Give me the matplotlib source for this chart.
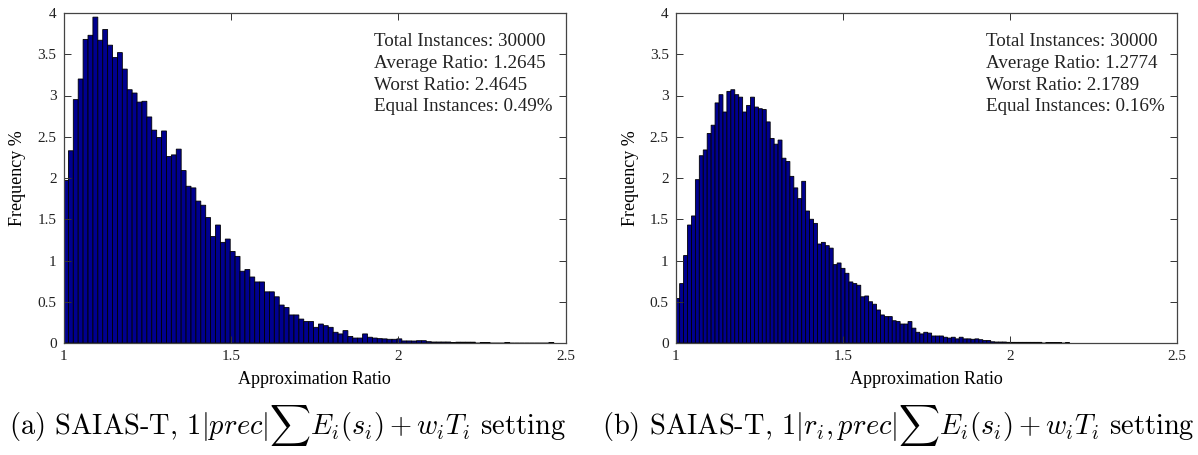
import matplotlib
matplotlib.use('Agg')
import matplotlib.pyplot as plt
import numpy as np

plt.rcParams['font.family'] = ['Liberation Serif', 'DejaVu Serif']
plt.rcParams['mathtext.fontset'] = 'cm'

#%% Data (histogram frequencies in %, 100 bins from 1 to worst ratio)

left_range = (1.0, 2.4645)
left_freq = [1.97, 2.33, 2.95, 3.20, 3.68, 3.73, 3.95, 3.67, 3.80, 3.61,
             3.46, 3.52, 3.32, 3.07, 3.03, 2.92, 2.93, 2.74, 2.58, 2.49,
             2.57, 2.26, 2.28, 2.35, 2.09, 1.90, 1.88, 1.72, 1.67, 1.52,
             1.29, 1.43, 1.22, 1.26, 1.11, 1.05, 0.87, 0.89, 0.80, 0.74,
             0.74, 0.62, 0.62, 0.56, 0.46, 0.43, 0.34, 0.34, 0.29, 0.26,
             0.26, 0.19, 0.23, 0.21, 0.19, 0.13, 0.11, 0.15, 0.08, 0.06,
             0.06, 0.11, 0.07, 0.06, 0.053, 0.05, 0.045, 0.045, 0.05, 0.025,
             0.025, 0.024, 0.028, 0.028, 0.016, 0.012, 0.012, 0.012, 0.012, 0.003,
             0.01, 0.01, 0.01, 0.01, 0, 0.007, 0.007, 0, 0, 0,
             0.007, 0, 0, 0, 0, 0, 0, 0, 0, 0.007]

right_range = (1.0, 2.1789)
right_freq = [0.54, 0.72, 1.06, 1.43, 1.54, 1.98, 2.27, 2.34, 2.54, 2.64,
              2.91, 3.01, 2.80, 3.05, 3.07, 3.01, 2.98, 2.80, 2.88, 2.98,
              2.86, 2.84, 2.83, 2.68, 2.48, 2.41, 2.46, 2.24, 2.20, 2.02,
              1.88, 1.75, 1.96, 1.60, 1.50, 1.45, 1.20, 1.22, 1.18, 1.15,
              0.95, 0.97, 0.905, 0.845, 0.74, 0.72, 0.70, 0.56, 0.57, 0.50,
              0.47, 0.40, 0.34, 0.32, 0.32, 0.27, 0.26, 0.23, 0.23, 0.26,
              0.18, 0.13, 0.11, 0.13, 0.12, 0.085, 0.085, 0.085, 0.07, 0.06,
              0.07, 0.05, 0.07, 0.05, 0.05, 0.045, 0.05, 0.04, 0.03, 0.03,
              0.015, 0.012, 0.012, 0.012, 0.008, 0.008, 0.008, 0.008, 0.008, 0.008,
              0.008, 0.008, 0.008, 0, 0.007, 0.007, 0.007, 0.007, 0, 0.005]

left_stats = ['Total Instances: 30000', 'Average Ratio: 1.2645',
              'Worst Ratio: 2.4645', 'Equal Instances: 0.49%']
right_stats = ['Total Instances: 30000', 'Average Ratio: 1.2774',
               'Worst Ratio: 2.1789', 'Equal Instances: 0.16%']

captions = [r'(a) SAIAS-T, $1|prec|\sum E_i(s_i)+w_iT_i$ setting',
            r'(b) SAIAS-T, $1|r_i,prec|\sum E_i(s_i)+w_iT_i$ setting']

xticks = [1, 1.5, 2, 2.5]
yticks = [0, 0.5, 1, 1.5, 2, 2.5, 3, 3.5, 4]
yticklabels = ['0', '0.5', '1', '1.5', '2', '2.5', '3', '3.5', '4']

#%% Plot

W, H = 1198, 455
fig = plt.figure(figsize=(W / 100, H / 100), dpi=100)

ax_l = fig.add_axes([63.5 / W, 1 - 343 / H, 502.2 / W, 330 / H])
ax_r = fig.add_axes([675.7 / W, 1 - 343 / H, 501 / W, 330 / H])

for ax, rng, freq, stats in [(ax_l, left_range, left_freq, left_stats),
                             (ax_r, right_range, right_freq, right_stats)]:
    edges = np.linspace(rng[0], rng[1], len(freq) + 1)
    bars = ax.bar(edges[:-1], freq, width=edges[1] - edges[0], align='edge',
                  color='#00008f', edgecolor='black', linewidth=0.6)
    for b in bars:
        b.set_snap(False)
    ax.set_xlim(1, 2.5)
    ax.set_ylim(0, 4)
    ax.set_xticks(xticks)
    ax.set_xticklabels(['1', '1.5', '2', '2.5'])
    ax.set_yticks(yticks)
    ax.set_yticklabels(yticklabels)
    ax.tick_params(direction='in', top=True, right=True, length=5,
                   width=0.7, color='#333333', labelsize=11, pad=5,
                   labelcolor='#222222')
    for s in ax.spines.values():
        s.set_color('#444444')
        s.set_linewidth(0.9)
    ax.set_xlabel('Approximation Ratio', fontsize=13, labelpad=6)
    ax.set_ylabel('Frequency %', fontsize=13, labelpad=8)
    for i, line in enumerate(stats):
        ax.text(1.928, 3.65 - i * 0.262, line, fontsize=13.7,
                ha='left', va='center', color='#222222')

fig.text(9 / W, 1 - 425 / H, captions[0], fontsize=20.5, family='cmr10',
         ha='left', va='center')
fig.text(602 / W, 1 - 425 / H, captions[1], fontsize=20.5, family='cmr10',
         ha='left', va='center')

fig.savefig('out.png', dpi=100)
